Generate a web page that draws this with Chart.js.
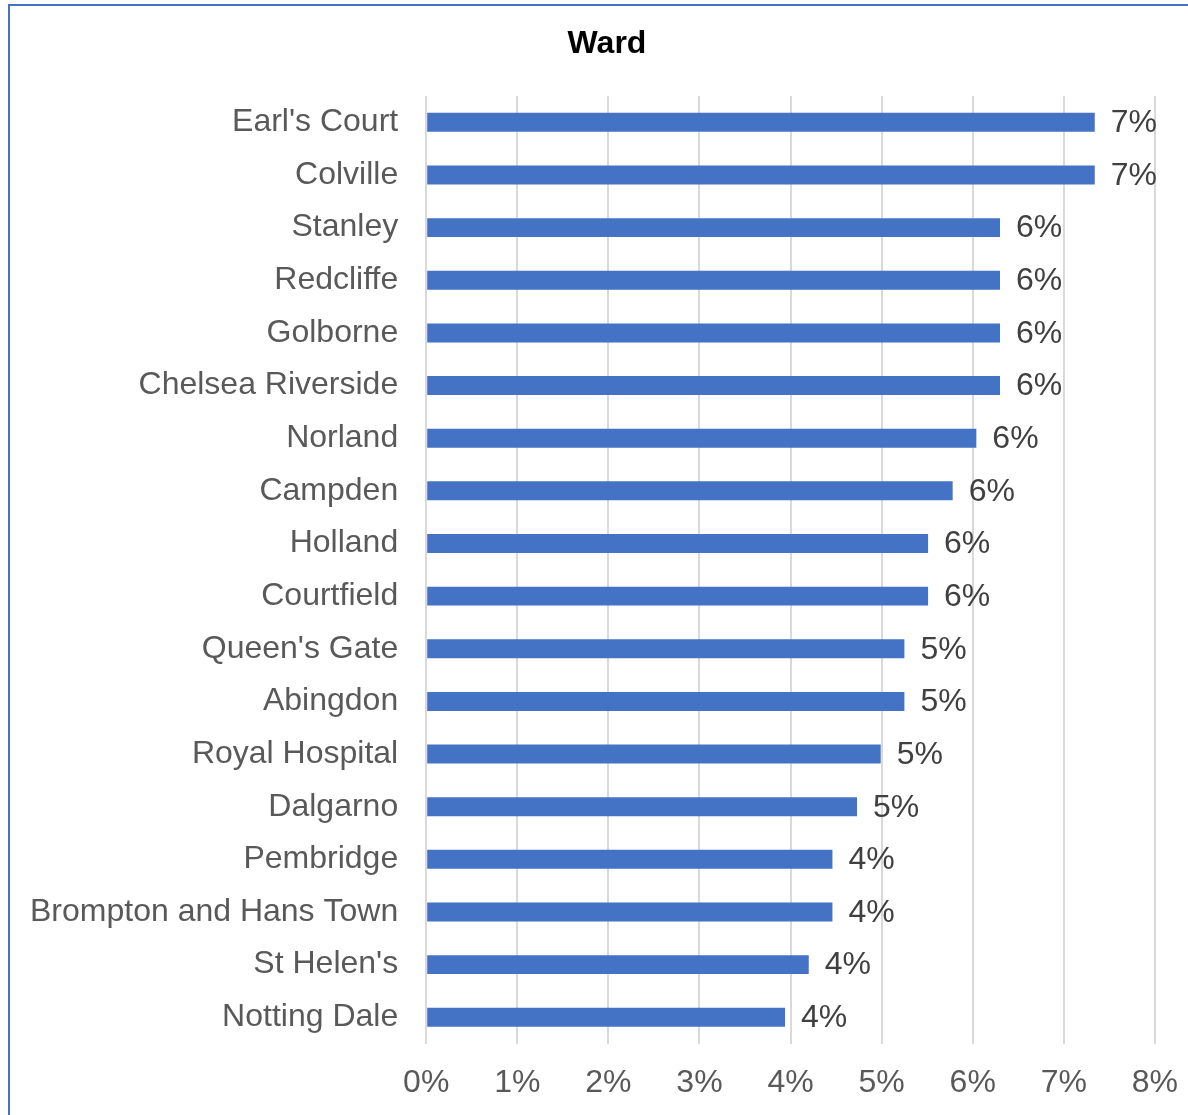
<!DOCTYPE html>
<html>
<head>
<meta charset="utf-8">
<script src="https://cdn.jsdelivr.net/npm/chart.js@4.4.1/dist/chart.umd.min.js"></script>
<style>
    body { margin: 0; background: #fff; overflow: hidden; }
    #frame {
        position: absolute; left: 8px; top: 4px;
        width: 1194px; height: 1400px;
        border: 2px solid #4472c4;
    }
    #wardChart { position: absolute; left: 0; top: 0; }
</style>
</head>
<body>
<div id="frame"></div>
<canvas id="wardChart" width="1198" height="1122"></canvas>
<script>
// Share of residents by ward (%)
const wards = [
    "Earl's Court", 'Colville', 'Stanley', 'Redcliffe', 'Golborne',
    'Chelsea Riverside', 'Norland', 'Campden', 'Holland', 'Courtfield',
    "Queen's Gate", 'Abingdon', 'Royal Hospital', 'Dalgarno', 'Pembridge',
    'Brompton and Hans Town', "St Helen's", 'Notting Dale'
];
const shares = [
    7.34, 7.34, 6.30, 6.30, 6.30,
    6.30, 6.04, 5.78, 5.51, 5.51,
    5.25, 5.25, 4.99, 4.73, 4.46,
    4.46, 4.20, 3.94
];
const axisTicks = [0, 1, 2, 3, 4, 5, 6, 7, 8];

const FONT = "'Liberation Sans', Arial, sans-serif";

// Title sits centred on the outer frame rather than the plot
const frameTitle = {
    id: 'frameTitle',
    afterDraw(chart) {
        const frame = document.getElementById('frame');
        const cx = frame.offsetLeft + frame.offsetWidth / 2;
        const ctx = chart.ctx;
        ctx.save();
        ctx.font = 'bold 32px ' + FONT;
        ctx.fillStyle = '#000';
        ctx.textAlign = 'center';
        ctx.textBaseline = 'middle';
        ctx.fillText('Ward', cx, 44);
        ctx.restore();
    }
};

// Draw the rounded percentage next to each bar
const valueLabels = {
    id: 'valueLabels',
    afterDatasetsDraw(chart) {
        const ctx = chart.ctx;
        const meta = chart.getDatasetMeta(0);
        ctx.save();
        ctx.font = '32px ' + FONT;
        ctx.fillStyle = '#404040';
        ctx.textAlign = 'left';
        ctx.textBaseline = 'middle';
        meta.data.forEach((bar, i) => {
            ctx.fillText(Math.round(shares[i]) + '%', bar.x + 16, bar.y + 1);
        });
        ctx.restore();
    }
};

new Chart(document.getElementById('wardChart'), {
    type: 'bar',
    data: {
        labels: wards,
        datasets: [{
            data: shares,
            backgroundColor: '#4472c4',
            borderWidth: 0,
            barPercentage: 0.36,
            categoryPercentage: 1
        }]
    },
    options: {
        indexAxis: 'y',
        responsive: false,
        devicePixelRatio: 1,
        animation: false,
        layout: { padding: { left: 2, right: 12, top: 96, bottom: 0 } },
        plugins: {
            legend: { display: false },
            tooltip: { enabled: false },
            title: { display: false }
        },
        scales: {
            x: {
                min: axisTicks[0],
                max: axisTicks[axisTicks.length - 1],
                afterBuildTicks(scale) {
                    scale.ticks = axisTicks.map(v => ({ value: v }));
                },
                border: { display: false },
                grid: { color: '#d9d9d9', lineWidth: 2, drawTicks: false },
                ticks: {
                    color: '#595959',
                    font: { family: FONT, size: 32 },
                    padding: 20,
                    callback: v => v + '%'
                }
            },
            y: {
                border: { display: false },
                grid: { display: false, drawTicks: false },
                ticks: {
                    color: '#595959',
                    font: { family: FONT, size: 32 },
                    padding: 28
                }
            }
        }
    },
    plugins: [valueLabels, frameTitle]
});
</script>
</body>
</html>
